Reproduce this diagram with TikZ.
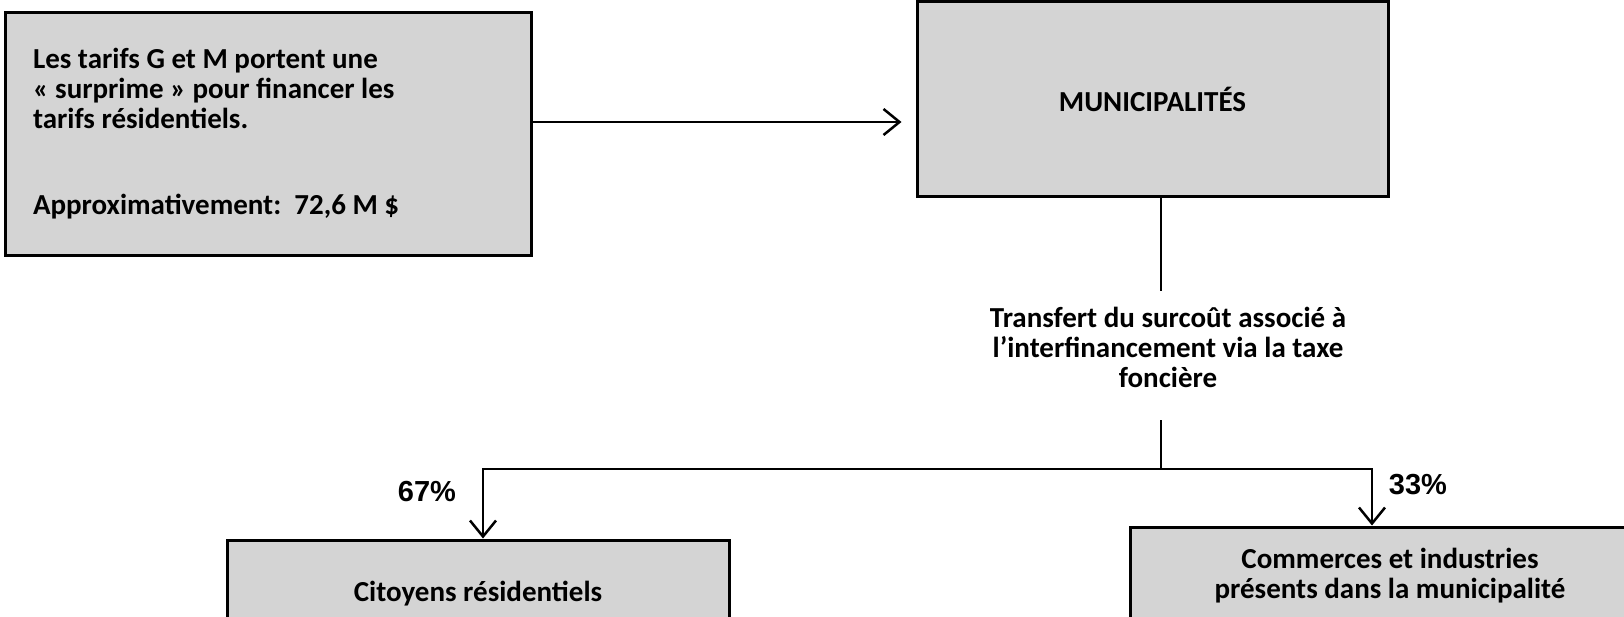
\documentclass[tikz,border=0pt]{standalone}
\usepackage{fontspec}
\setmainfont{Carlito}
\newfontfamily\pctfont{Liberation Sans}
\usetikzlibrary{arrows.meta}
\begin{document}
\begin{tikzpicture}[x=1pt,y=-1pt,
            boite/.style={draw,line width=3pt,fill=black!17,
                font=\fontsize{29}{30}\selectfont\bfseries},
            pct/.style={font=\pctfont\fontsize{29}{34}\selectfont\bfseries},
            fleche/.style={-{Straight Barb[length=16pt,width=26pt,line width=2.5pt]}}]
            \useasboundingbox (0,0) rectangle (1624,616);
            % boites
            \node[boite,minimum width=526,minimum height=243,inner xsep=28pt,
                text width=470pt,align=flush left] (note) at (268,133.5)
                {Les tarifs G et M portent une\\
                « surprime » pour financer les\\
                tarifs résidentiels.\\[56pt]
                Approximativement:\ \ 72,6 M \$};
            \node[boite,minimum width=471,minimum height=195.5] (muni) at (1152.5,99) {MUNICIPALITÉS};
            \node[boite,minimum width=502,minimum height=108] (resid) at (478,594) {Citoyens résidentiels};
            \node[boite,minimum width=520,minimum height=98,align=center] (comm) at (1390,576)
                {Commerces et industries\\présents dans la municipalité};
            \path
            (1168,347) node[inner sep=0pt,align=center,font=\fontsize{29}{30}\selectfont\bfseries] (transfert)
                {Transfert du surcoût associé à\\l’interfinancement via la taxe\\foncière}
            (427,492) node[pct] (p67) {67\%}
            (1418,485) node[pct] (p33) {33\%};
            \coordinate (split) at (1161,469);
            \begin{scope}[line width=2pt]
                \draw[shorten >=16pt] (split |- muni.south) -- (split |- transfert.north);
                \draw[shorten <=33pt] (split |- transfert.south) -- (split);
            \end{scope}
            \begin{scope}[fleche,line width=2pt]
                \draw[shorten >=14pt] ([yshift=11.5pt]note.east) -- ([yshift=11.5pt]note.east -| muni.west);
                \draw (split) -| ([xshift=5pt]resid.north);
                \draw (split) -| ([xshift=-18pt]comm.north);
            \end{scope}
        \end{tikzpicture}
\end{document}
